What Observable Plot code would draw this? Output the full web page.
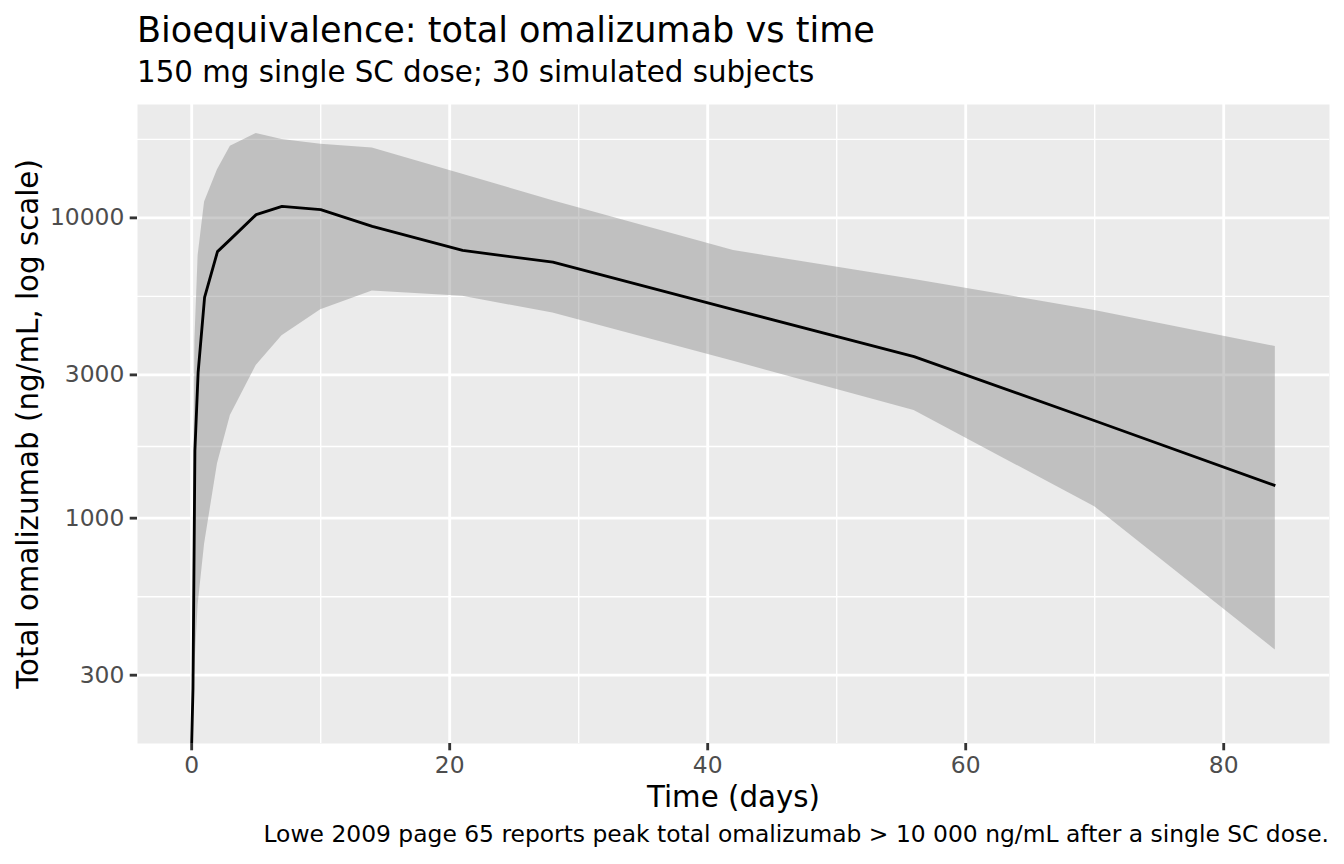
<!DOCTYPE html>
<html>
<head>
<meta charset="utf-8">
<script src="https://cdn.jsdelivr.net/npm/d3@7"></script>
<script src="https://cdn.jsdelivr.net/npm/@observablehq/plot@0.6"></script>
<style>
  html, body { margin: 0; padding: 0; background: #ffffff; }
  #wrap { position: relative; width: 1344px; height: 864px; font-family: "DejaVu Sans", sans-serif; color: #000; }
  #wrap svg { position: absolute; left: 0; top: 0; }
  .txt { position: absolute; white-space: nowrap; z-index: 2; }
  #title { left: 137px; top: 11.8px; font-size: 35.1px; line-height: 35.1px; }
  #subtitle { left: 137px; top: 58.2px; font-size: 29.3px; line-height: 29.3px; }
  #caption { right: 15px; top: 823.2px; font-size: 23.4px; line-height: 23.4px; text-align: right; }
</style>
</head>
<body>
<div id="wrap">
  <div id="title" class="txt">Bioequivalence: total omalizumab vs time</div>
  <div id="subtitle" class="txt">150 mg single SC dose; 30 simulated subjects</div>
  <div id="caption" class="txt">Lowe 2009 page 65 reports peak total omalizumab &gt; 10 000 ng/mL after a single SC dose.</div>
</div>
<script>
// Simulated total omalizumab concentrations (ng/mL) after a 150 mg SC dose
const timeDays = [0, 0.1, 0.25, 0.5, 1, 2, 3, 5, 7, 10, 14, 21, 28, 42, 56, 70, 84];
const concMedian = [0, 270, 1680, 3060, 5440, 7720, 8480, 10250, 10920, 10650, 9370, 7790, 7120, 4950, 3450, 2110, 1283];
const concLower = [0, 222, 322, 515, 821, 1517, 2196, 3222, 4050, 4943, 5703, 5486, 4820, 3330, 2282, 1092, 364];
const concUpper = [0, 420, 3900, 7500, 11290, 14475, 17310, 19090, 18230, 17580, 17085, 13965, 11400, 7783, 6237, 4918, 3730];

// Axis breaks and their labels
const xBreaks = [0, 20, 40, 60, 80];
const xMinorBreaks = [10, 30, 50, 70];
const xTickLabels = ["0", "20", "40", "60", "80"];
const yBreaks = [300, 1000, 3000, 10000];
const yTickLabels = ["300", "1000", "3000", "10000"];

const rows = timeDays.map((t, i) => ({
  time: t, median: concMedian[i], lower: concLower[i], upper: concUpper[i]
}));

// x domain: data range padded by 5% on each side
const xMin = d3.min(timeDays), xMax = d3.max(timeDays);
const xPad = (xMax - xMin) * 0.05;
const xDomain = [xMin - xPad, xMax + xPad];

// y domain: finite positive values, padded by 5% in log space
const positives = [...concMedian, ...concLower, ...concUpper].filter(v => v > 0);
const lmin = Math.log10(d3.min(positives)), lmax = Math.log10(d3.max(positives));
const lpad = (lmax - lmin) * 0.05;
const yDomain = [10 ** (lmin - lpad), 10 ** (lmax + lpad)];

// minor y grid: geometric midpoints between breaks, extended one step above
const lb = yBreaks.map(Math.log10);
const step = lb[1] - lb[0];
const lbExt = [lb[0] - step, ...lb, lb[lb.length - 1] + step];
const yMinorBreaks = d3.pairs(lbExt).map(([a, b]) => 10 ** ((a + b) / 2))
  .filter(v => v >= yDomain[0] && v <= yDomain[1]);

// zero concentrations sit on the lower panel edge of the log axis
const floorY = v => (v > 0 ? v : yDomain[0]);

const xLabel = d => xTickLabels[xBreaks.indexOf(d)];
const yLabel = d => yTickLabels[yBreaks.indexOf(d)];

const chart = Plot.plot({
  width: 1344,
  height: 864,
  marginTop: 104,
  marginBottom: 121,
  marginLeft: 137,
  marginRight: 15,
  style: { fontFamily: "DejaVu Sans, sans-serif", background: "transparent", overflow: "visible" },
  x: { domain: xDomain },
  y: { type: "log", domain: yDomain },
  marks: [
    Plot.frame({ fill: "#EBEBEB", stroke: null }),
    Plot.ruleX(xMinorBreaks, { stroke: "#ffffff", strokeWidth: 1.42 }),
    Plot.ruleY(yMinorBreaks, { stroke: "#ffffff", strokeWidth: 1.42 }),
    Plot.ruleX(xBreaks, { stroke: "#ffffff", strokeWidth: 2.84 }),
    Plot.ruleY(yBreaks, { stroke: "#ffffff", strokeWidth: 2.84 }),
    Plot.areaY(rows, {
      x: "time",
      y1: d => floorY(d.lower),
      y2: d => floorY(d.upper),
      fill: "#7F7F7F",
      fillOpacity: 0.4,
      clip: true
    }),
    Plot.line(rows, {
      x: "time",
      y: d => floorY(d.median),
      stroke: "#000000",
      strokeWidth: 2.84,
      strokeLinejoin: "round",
      strokeLinecap: "butt",
      clip: true
    }),
    // x axis: tick marks and labels
    Plot.axisX(xBreaks, {
      tickSize: 7.3,
      tickPadding: 5.85,
      fontSize: 23.4,
      stroke: "#333333",
      strokeWidth: 2.84,
      fill: "#4D4D4D",
      tickFormat: xLabel,
      label: null
    }),
    // y axis: tick marks, then right-aligned labels
    Plot.axisY(yBreaks, {
      anchor: "left",
      tickSize: 7.3,
      tickPadding: 5.85,
      stroke: "#333333",
      strokeWidth: 2.84,
      text: null,
      label: null
    }),
    Plot.text(yBreaks, {
      y: d => d,
      text: yLabel,
      frameAnchor: "left",
      textAnchor: "end",
      lineAnchor: "middle",
      dx: -13.15,
      fontSize: 23.4,
      fill: "#4D4D4D"
    }),
    // axis titles
    Plot.text(["Time (days)"], {
      frameAnchor: "bottom",
      lineAnchor: "middle",
      textAnchor: "middle",
      dy: 54.6,
      fontSize: 29.3,
      fill: "#000000"
    }),
    Plot.text(["Total omalizumab (ng/mL, log scale)"], {
      frameAnchor: "left",
      textAnchor: "middle",
      lineAnchor: "middle",
      rotate: -90,
      dx: -108.4,
      fontSize: 29.3,
      fill: "#000000"
    })
  ]
});

document.getElementById("wrap").prepend(chart);
</script>
</body>
</html>
